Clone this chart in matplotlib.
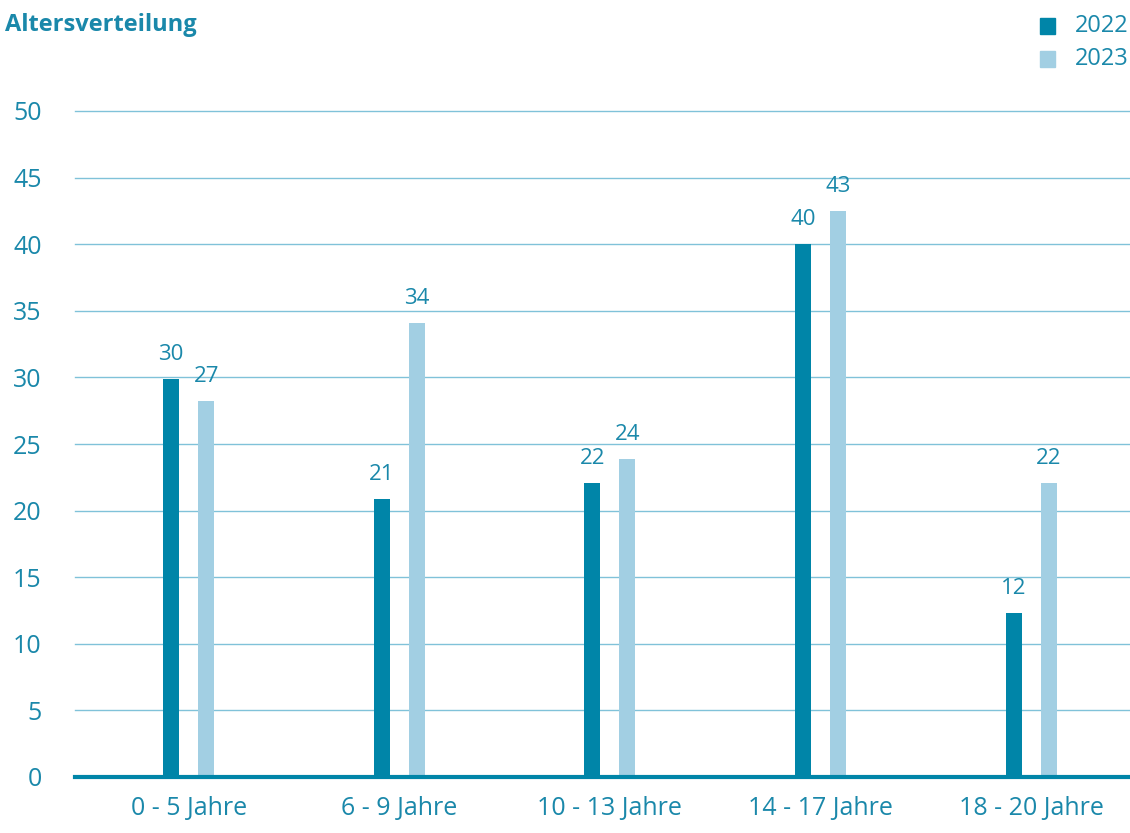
import numpy as np
import matplotlib
matplotlib.use("Agg")
from matplotlib import pyplot as plt
from matplotlib.patches import Rectangle

# data
categories = ["0 - 5 Jahre", "6 - 9 Jahre", "10 - 13 Jahre", "14 - 17 Jahre", "18 - 20 Jahre"]
heights_2022 = [29.9, 20.9, 22.1, 40.0, 12.3]
heights_2023 = [28.2, 34.1, 23.9, 42.5, 22.1]
labels_2022 = ["30", "21", "22", "40", "12"]
labels_2023 = ["27", "34", "24", "43", "22"]
series_names = ["2022", "2023"]
yticks = [0, 5, 10, 15, 20, 25, 30, 35, 40, 45, 50]

dark = "#0085a8"
light = "#a2cfe3"
grid_col = "#80c2d9"
text_col = "#1a88aa"

plt.rcParams["font.family"] = ["Open Sans", "DejaVu Sans"]

fig = plt.figure(figsize=(11.3, 8.33), dpi=100)
ax = fig.add_axes([75 / 1130, 56 / 833, 1 - 75 / 1130, (777 - 111) / 833])

x = np.arange(len(categories))
w = 0.076
off = 0.083
b1 = ax.bar(x - off, heights_2022, width=w, color=dark, zorder=3)
b2 = ax.bar(x + off, heights_2023, width=w, color=light, zorder=3)

for bars, labs in ((b1, labels_2022), (b2, labels_2023)):
    for r, lab in zip(bars, labs):
        ax.annotate(lab, (r.get_x() + r.get_width() / 2, r.get_height()),
                    xytext=(0, 10), textcoords="offset points",
                    ha="center", va="bottom", fontsize=16, color=text_col)

ax.set_xlim(-0.54, 4.47)
ax.set_ylim(0, 50)
ax.set_yticks(yticks)
ax.set_xticks(x)
ax.set_xticklabels(categories)
ax.tick_params(axis="both", length=0, labelcolor=text_col)
ax.tick_params(axis="y", pad=24, labelsize=18)
ax.tick_params(axis="x", pad=14, labelsize=18)
for lab in ax.get_yticklabels():
    lab.set_horizontalalignment("right")

for y in yticks[1:]:
    ax.axhline(y, color=grid_col, lw=1, zorder=1, clip_on=False)
ax.axhline(0, color=dark, lw=3, zorder=4, clip_on=False)
for s in ax.spines.values():
    s.set_visible(False)

fig.text(5 / 1130, 1 - 25 / 833, "Altersverteilung", fontsize=17, fontweight="bold",
         color=text_col, va="center", ha="left")

# legend
for i, (name, col) in enumerate(zip(series_names, [dark, light])):
    yc = 26 + i * 33
    fig.patches.append(Rectangle((1040 / 1130, 1 - (yc + 8) / 833), 15 / 1130, 16 / 833,
                                 transform=fig.transFigure, color=col))
    fig.text(1075 / 1130, 1 - yc / 833, name, fontsize=17, color=text_col,
             va="center", ha="left")

fig.savefig("out.png", dpi=100)
